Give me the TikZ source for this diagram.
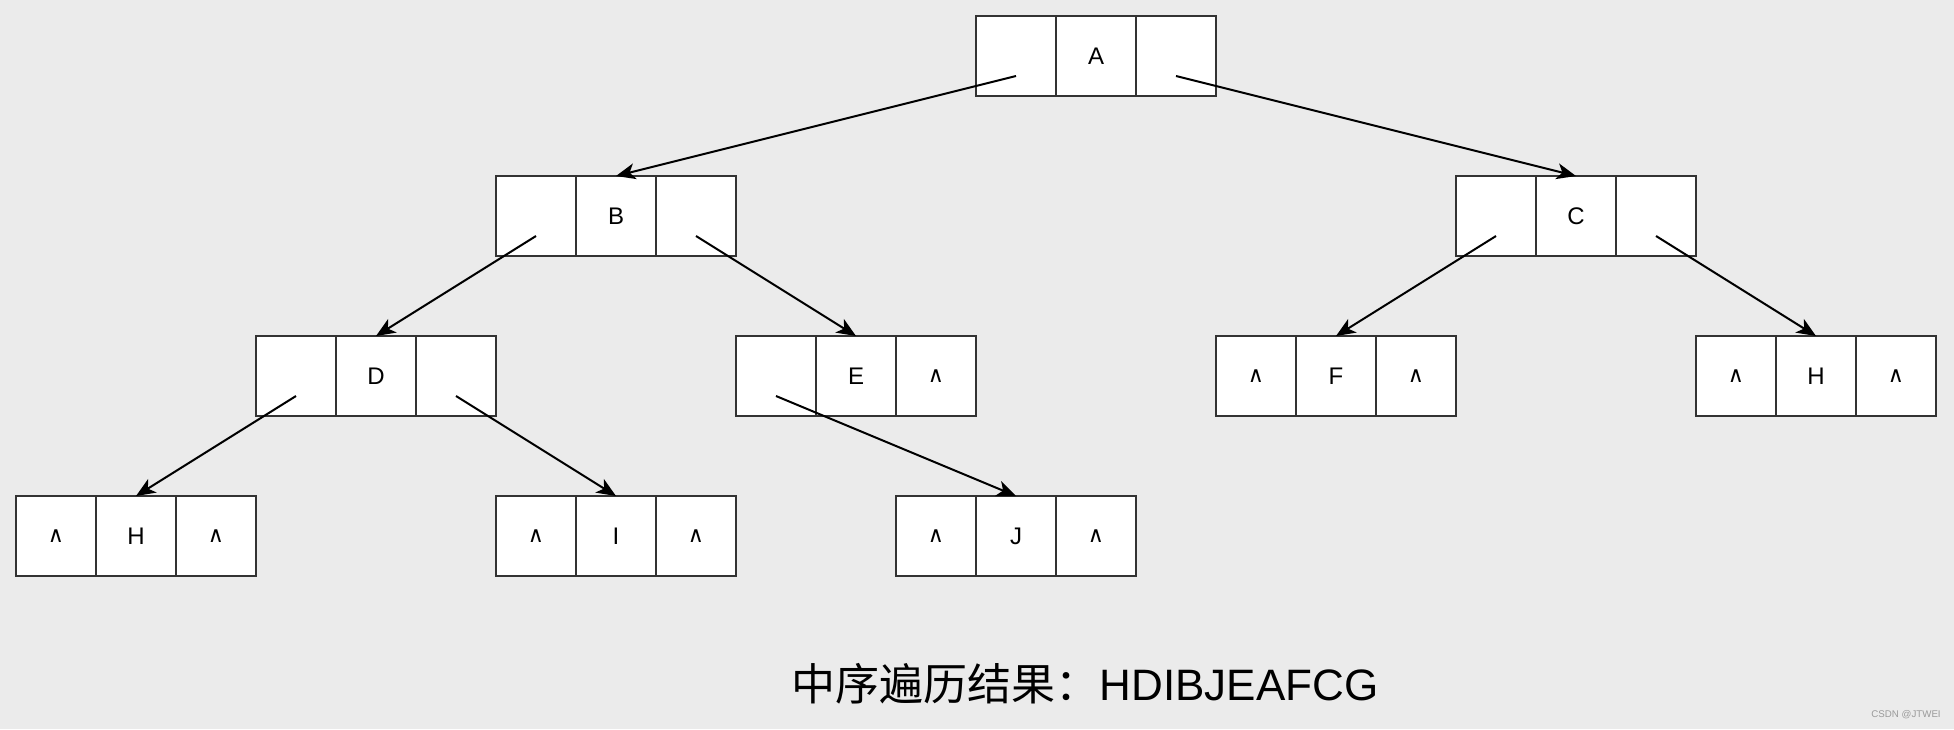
\documentclass[tikz,border=0pt]{standalone}
\usepackage{fontspec}
\usepackage{graphicx}
\setmainfont{Liberation Sans}
\setsansfont{Liberation Sans}
\newfontfamily\cjk{Noto Sans CJK SC}
\newfontfamily\symf{DejaVu Sans}
\usetikzlibrary{arrows.meta}
\definecolor{bg}{HTML}{EBEBEB}
\definecolor{bord}{HTML}{333333}
\definecolor{wm}{HTML}{9A9A9A}
\tikzset{
  cell/.style={draw=bord, fill=white, line width=1.5pt, minimum width=60pt, minimum height=60pt,
    inner sep=0pt, outer sep=0pt, font=\fontsize{18}{20}\selectfont},
  link/.style={line width=1.5pt, -{Stealth[length=14.5pt,width=12pt,inset=4pt]}},
}
\newcommand{\nil}{{\symf\fontsize{16.5}{18}\selectfont ∧}}
% name, left x, top y, left text, middle text, right text
\newcommand{\tnode}[6]{%
  \node[cell] (#1l) at (#2+40,#3+40) {#4};
  \node[cell] (#1m) at (#2+120,#3+40) {#5};
  \node[cell] (#1r) at (#2+200,#3+40) {#6};
  \coordinate (#1ls) at (#2+40,#3+60);
  \coordinate (#1rs) at (#2+200,#3+60);
}
\begin{document}
\begin{tikzpicture}[x=0.75pt,y=-0.75pt]
\fill[bg] (0,0) rectangle (1954,729);
\useasboundingbox (0,0) rectangle (1954,729);
\tnode{A}{976}{16}{}{A}{}
\tnode{B}{496}{176}{}{B}{}
\tnode{C}{1456}{176}{}{C}{}
\tnode{D}{256}{336}{}{D}{}
\tnode{E}{736}{336}{}{E}{\nil}
\tnode{F}{1216}{336}{\nil}{F}{\nil}
\tnode{G}{1696}{336}{\nil}{H}{\nil}
\tnode{H}{16}{496}{\nil}{H}{\nil}
\tnode{I}{496}{496}{\nil}{I}{\nil}
\tnode{J}{896}{496}{\nil}{J}{\nil}
\draw[link] (Als) -- (Bm.north);
\draw[link] (Ars) -- (Cm.north);
\draw[link] (Bls) -- (Dm.north);
\draw[link] (Brs) -- (Em.north);
\draw[link] (Cls) -- (Fm.north);
\draw[link] (Crs) -- (Gm.north);
\draw[link] (Dls) -- (Hm.north);
\draw[link] (Drs) -- (Im.north);
\draw[link] (Els) -- (Jm.north);
\node[inner sep=0pt, font=\fontsize{33}{36}\selectfont] (res) at (1085,684) {{\cjk 中序遍历结果：}HDIBJEAFCG};
\node[inner sep=0pt, text=wm, font=\fontsize{7.3}{8}\selectfont] (wmk) at (1906,715) {CSDN @JTWEI};
\end{tikzpicture}
\end{document}
